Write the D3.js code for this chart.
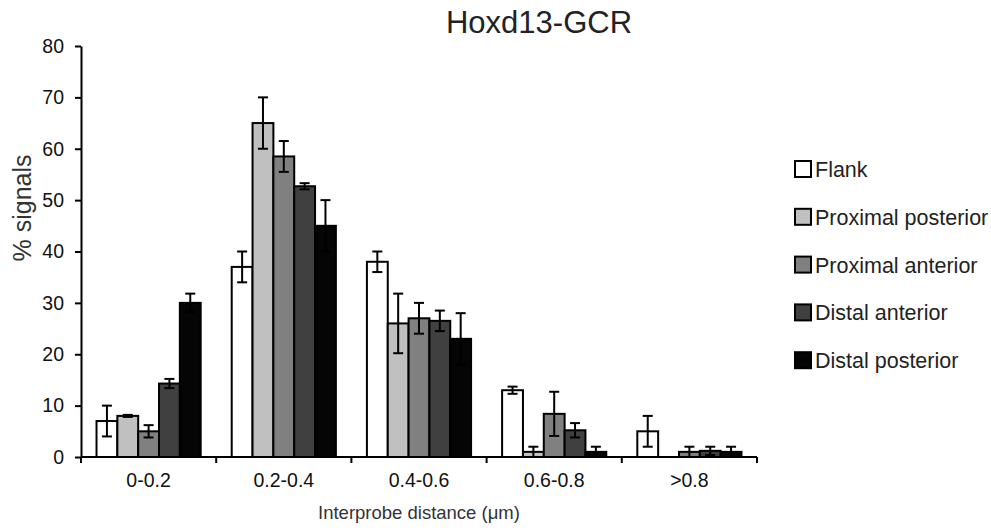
<!DOCTYPE html>
<html>
<head>
<meta charset="utf-8">
<script src="https://cdn.jsdelivr.net/npm/d3@7"></script>
<style>
  html, body { margin: 0; padding: 0; background: #fff; }
  svg { display: block; font-family: "Liberation Sans", Arial, sans-serif; }
</style>
</head>
<body>
<svg id="chart" width="991" height="531"></svg>
<script>
// Interprobe distance bins
const categories = ["0-0.2", "0.2-0.4", "0.4-0.6", "0.6-0.8", ">0.8"];
const seriesNames = ["Flank", "Proximal posterior", "Proximal anterior", "Distal anterior", "Distal posterior"];
const seriesColors = ["#ffffff", "#c0c0c0", "#808080", "#404040", "#050505"];

// % signals per bin, one array per tissue
const flank     = [7, 37, 38, 13, 5];
const proxPost  = [8, 65, 26, 1, 0];
const proxAnt   = [5, 58.5, 27, 8.4, 1];
const distAnt   = [14.3, 52.7, 26.5, 5.2, 1.2];
const distPost  = [30, 45, 23, 1, 1];

// Error bar half-widths
const flankErr    = [3, 3, 2, 0.7, 3];
const proxPostErr = [0.2, 5, 5.8, 1, 0];
const proxAntErr  = [1.2, 3, 3, 4.3, 1];
const distAntErr  = [0.9, 0.6, 2, 1.4, 0.8];
const distPostErr = [1.8, 5, 5, 1, 1];

const yTicks = [0, 10, 20, 30, 40, 50, 60, 70, 80];

const values = [flank, proxPost, proxAnt, distAnt, distPost];
const errors = [flankErr, proxPostErr, proxAntErr, distAntErr, distPostErr];

const svg = d3.select("#chart");
const m = { left: 81, right: 234, top: 46, bottom: 74 };
const W = 991, H = 531;

const x0 = d3.scaleBand().domain(categories).range([m.left, W - m.right]).paddingInner(0).paddingOuter(0);
const x1 = d3.scaleBand().domain(seriesNames).range([0, x0.bandwidth()]).paddingInner(0).paddingOuter(0.745);
const y = d3.scaleLinear().domain([0, 80]).range([H - m.bottom, m.top]);

const data = [];
categories.forEach((c, ci) => {
  seriesNames.forEach((s, si) => {
    data.push({ cat: c, series: s, si, value: values[si][ci], err: errors[si][ci] });
  });
});

// Bars
const g = svg.append("g");
g.selectAll("rect.bar").data(data).join("rect")
  .attr("class", "bar")
  .attr("x", d => x0(d.cat) + x1(d.series))
  .attr("y", d => y(d.value))
  .attr("width", x1.bandwidth())
  .attr("height", d => y(0) - y(d.value))
  .attr("fill", d => seriesColors[d.si])
  .attr("stroke", "#000")
  .attr("stroke-width", 2);

// Error bars
const eb = g.selectAll("g.err").data(data.filter(d => d.err > 0)).join("g").attr("class", "err");
const cx = d => x0(d.cat) + x1(d.series) + x1.bandwidth() / 2;
eb.append("line")
  .attr("x1", cx).attr("x2", cx)
  .attr("y1", d => y(d.value + d.err)).attr("y2", d => y(Math.max(0, d.value - d.err)))
  .attr("stroke", "#000").attr("stroke-width", 2);
eb.append("line")
  .attr("x1", d => cx(d) - 5).attr("x2", d => cx(d) + 5)
  .attr("y1", d => y(d.value + d.err)).attr("y2", d => y(d.value + d.err))
  .attr("stroke", "#000").attr("stroke-width", 2);
eb.append("line")
  .attr("x1", d => cx(d) - 5).attr("x2", d => cx(d) + 5)
  .attr("y1", d => y(Math.max(0, d.value - d.err))).attr("y2", d => y(Math.max(0, d.value - d.err)))
  .attr("stroke", "#000").attr("stroke-width", 2);

// Y axis
const yAxis = svg.append("g")
  .attr("transform", `translate(${m.left},0)`)
  .call(d3.axisLeft(y).tickValues(yTicks).tickSize(6).tickSizeOuter(0));
yAxis.attr("font-size", null).attr("font-family", null);
yAxis.select(".domain").attr("stroke", "#000").attr("stroke-width", 2);
yAxis.selectAll(".tick line").attr("stroke", "#000").attr("stroke-width", 2);
yAxis.selectAll(".tick text").attr("font-size", 19.5).attr("fill", "#111").attr("x", -17);

// X axis: ticks sit on the bin boundaries
const xAxis = svg.append("g").attr("transform", `translate(0,${y(0)})`);
xAxis.append("line")
  .attr("x1", m.left).attr("x2", W - m.right)
  .attr("y1", 0).attr("y2", 0)
  .attr("stroke", "#000").attr("stroke-width", 2);
const bounds = categories.map(c => x0(c)).concat([x0(categories[categories.length - 1]) + x0.bandwidth()]);
xAxis.selectAll("line.tk").data(bounds).join("line")
  .attr("class", "tk")
  .attr("x1", d => d).attr("x2", d => d)
  .attr("y1", 0).attr("y2", 6)
  .attr("stroke", "#000").attr("stroke-width", 2);
xAxis.selectAll("text.lbl").data(categories).join("text")
  .attr("class", "lbl")
  .attr("x", d => x0(d) + x0.bandwidth() / 2)
  .attr("y", 30)
  .attr("text-anchor", "middle")
  .attr("font-size", 19.5).attr("fill", "#111")
  .text(d => d);

// Axis titles
svg.append("text")
  .attr("x", (m.left + W - m.right) / 2)
  .attr("y", 519)
  .attr("text-anchor", "middle")
  .attr("font-size", 18.5).attr("fill", "#333")
  .text("Interprobe distance (μm)");

svg.append("text")
  .attr("transform", `translate(31,208) rotate(-90)`)
  .attr("text-anchor", "middle")
  .attr("font-size", 25).attr("fill", "#333")
  .text("% signals");

// Title
svg.append("text")
  .attr("x", 539)
  .attr("y", 33)
  .attr("text-anchor", "middle")
  .attr("font-size", 31).attr("fill", "#222")
  .text("Hoxd13-GCR");

// Legend
const leg = svg.append("g").attr("transform", "translate(795,169)");
const items = leg.selectAll("g").data(seriesNames).join("g")
  .attr("transform", (d, i) => `translate(0,${i * 47.8})`);
items.append("rect")
  .attr("x", 0).attr("y", -8).attr("width", 16).attr("height", 16)
  .attr("fill", (d, i) => seriesColors[i])
  .attr("stroke", "#000").attr("stroke-width", 2);
items.append("text")
  .attr("x", 20).attr("y", 8)
  .attr("font-size", 21.5).attr("fill", "#222")
  .text(d => d);
</script>
</body>
</html>
